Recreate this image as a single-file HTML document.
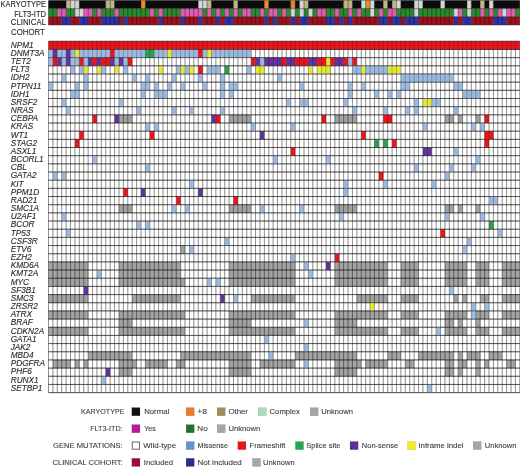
<!DOCTYPE html>
<html><head><meta charset="utf-8"><style>
html,body{margin:0;padding:0;background:#fff;}
body{width:520px;height:467px;overflow:hidden;font-family:"Liberation Sans",sans-serif;}
svg{display:block;will-change:transform;}
</style></head><body>
<svg width="520" height="467" viewBox="0 0 520 467"><rect x="48.50" y="0.45" width="17.62" height="8.17" fill="#0c0c0c"/><rect x="66.12" y="0.45" width="4.41" height="8.17" fill="#c0b785"/><rect x="70.53" y="0.45" width="8.81" height="8.17" fill="#d6d6d6"/><rect x="79.34" y="0.45" width="26.43" height="8.17" fill="#0c0c0c"/><rect x="105.77" y="0.45" width="8.81" height="8.17" fill="#c0b785"/><rect x="114.58" y="0.45" width="26.43" height="8.17" fill="#0c0c0c"/><rect x="141.00" y="0.45" width="4.41" height="8.17" fill="#ef8a25"/><rect x="145.41" y="0.45" width="52.86" height="8.17" fill="#0c0c0c"/><rect x="198.27" y="0.45" width="8.81" height="8.17" fill="#d6d6d6"/><rect x="207.08" y="0.45" width="4.41" height="8.17" fill="#c0b785"/><rect x="211.49" y="0.45" width="22.03" height="8.17" fill="#0c0c0c"/><rect x="233.51" y="0.45" width="4.41" height="8.17" fill="#c0b785"/><rect x="237.92" y="0.45" width="26.43" height="8.17" fill="#0c0c0c"/><rect x="264.35" y="0.45" width="4.41" height="8.17" fill="#ef8a25"/><rect x="268.75" y="0.45" width="22.03" height="8.17" fill="#0c0c0c"/><rect x="290.77" y="0.45" width="4.41" height="8.17" fill="#ef8a25"/><rect x="295.18" y="0.45" width="4.41" height="8.17" fill="#0c0c0c"/><rect x="299.59" y="0.45" width="4.41" height="8.17" fill="#d6d6d6"/><rect x="303.99" y="0.45" width="4.41" height="8.17" fill="#c0b785"/><rect x="308.40" y="0.45" width="35.24" height="8.17" fill="#0c0c0c"/><rect x="343.63" y="0.45" width="8.81" height="8.17" fill="#c0b785"/><rect x="352.44" y="0.45" width="8.81" height="8.17" fill="#0c0c0c"/><rect x="361.25" y="0.45" width="4.41" height="8.17" fill="#c4e2cc"/><rect x="365.66" y="0.45" width="4.41" height="8.17" fill="#ef8a25"/><rect x="370.06" y="0.45" width="4.41" height="8.17" fill="#d6d6d6"/><rect x="374.47" y="0.45" width="8.81" height="8.17" fill="#0c0c0c"/><rect x="383.28" y="0.45" width="4.41" height="8.17" fill="#c0b785"/><rect x="387.69" y="0.45" width="4.41" height="8.17" fill="#0c0c0c"/><rect x="392.09" y="0.45" width="4.41" height="8.17" fill="#c0b785"/><rect x="396.50" y="0.45" width="4.41" height="8.17" fill="#d6d6d6"/><rect x="400.90" y="0.45" width="13.21" height="8.17" fill="#0c0c0c"/><rect x="414.12" y="0.45" width="4.41" height="8.17" fill="#d6d6d6"/><rect x="418.52" y="0.45" width="4.41" height="8.17" fill="#c4e2cc"/><rect x="422.93" y="0.45" width="17.62" height="8.17" fill="#0c0c0c"/><rect x="440.55" y="0.45" width="4.41" height="8.17" fill="#d6d6d6"/><rect x="444.95" y="0.45" width="22.03" height="8.17" fill="#0c0c0c"/><rect x="466.98" y="0.45" width="4.41" height="8.17" fill="#d6d6d6"/><rect x="471.38" y="0.45" width="8.81" height="8.17" fill="#0c0c0c"/><rect x="480.19" y="0.45" width="4.41" height="8.17" fill="#c0b785"/><rect x="484.60" y="0.45" width="4.41" height="8.17" fill="#0c0c0c"/><rect x="489.00" y="0.45" width="4.41" height="8.17" fill="#d6d6d6"/><rect x="493.41" y="0.45" width="26.43" height="8.17" fill="#0c0c0c"/><rect x="48.50" y="8.62" width="8.81" height="8.17" fill="#2a8a2e"/><rect x="57.31" y="8.62" width="8.81" height="8.17" fill="#e25cb4"/><rect x="66.12" y="8.62" width="8.81" height="8.17" fill="#2a8a2e"/><rect x="74.93" y="8.62" width="8.81" height="8.17" fill="#d6d6d6"/><rect x="83.74" y="8.62" width="8.81" height="8.17" fill="#e25cb4"/><rect x="92.55" y="8.62" width="4.41" height="8.17" fill="#2a8a2e"/><rect x="96.96" y="8.62" width="4.41" height="8.17" fill="#e25cb4"/><rect x="101.36" y="8.62" width="13.21" height="8.17" fill="#2a8a2e"/><rect x="114.58" y="8.62" width="4.41" height="8.17" fill="#e25cb4"/><rect x="118.98" y="8.62" width="30.84" height="8.17" fill="#2a8a2e"/><rect x="149.81" y="8.62" width="4.41" height="8.17" fill="#e25cb4"/><rect x="154.22" y="8.62" width="4.41" height="8.17" fill="#2a8a2e"/><rect x="158.62" y="8.62" width="4.41" height="8.17" fill="#e25cb4"/><rect x="163.03" y="8.62" width="17.62" height="8.17" fill="#2a8a2e"/><rect x="180.65" y="8.62" width="22.03" height="8.17" fill="#e25cb4"/><rect x="202.68" y="8.62" width="4.41" height="8.17" fill="#2a8a2e"/><rect x="207.08" y="8.62" width="4.41" height="8.17" fill="#e25cb4"/><rect x="211.49" y="8.62" width="4.41" height="8.17" fill="#2a8a2e"/><rect x="215.89" y="8.62" width="4.41" height="8.17" fill="#e25cb4"/><rect x="220.30" y="8.62" width="4.41" height="8.17" fill="#2a8a2e"/><rect x="224.70" y="8.62" width="4.41" height="8.17" fill="#e25cb4"/><rect x="229.11" y="8.62" width="4.41" height="8.17" fill="#2a8a2e"/><rect x="233.51" y="8.62" width="4.41" height="8.17" fill="#e25cb4"/><rect x="237.92" y="8.62" width="4.41" height="8.17" fill="#2a8a2e"/><rect x="242.32" y="8.62" width="8.81" height="8.17" fill="#e25cb4"/><rect x="251.13" y="8.62" width="8.81" height="8.17" fill="#2a8a2e"/><rect x="259.94" y="8.62" width="4.41" height="8.17" fill="#e25cb4"/><rect x="264.35" y="8.62" width="4.41" height="8.17" fill="#2a8a2e"/><rect x="268.75" y="8.62" width="8.81" height="8.17" fill="#e25cb4"/><rect x="277.56" y="8.62" width="4.41" height="8.17" fill="#2a8a2e"/><rect x="281.97" y="8.62" width="4.41" height="8.17" fill="#e25cb4"/><rect x="286.37" y="8.62" width="4.41" height="8.17" fill="#2a8a2e"/><rect x="290.77" y="8.62" width="4.41" height="8.17" fill="#d6d6d6"/><rect x="295.18" y="8.62" width="4.41" height="8.17" fill="#2a8a2e"/><rect x="299.59" y="8.62" width="4.41" height="8.17" fill="#d6d6d6"/><rect x="303.99" y="8.62" width="4.41" height="8.17" fill="#2a8a2e"/><rect x="308.40" y="8.62" width="4.41" height="8.17" fill="#d6d6d6"/><rect x="312.80" y="8.62" width="4.41" height="8.17" fill="#2a8a2e"/><rect x="317.21" y="8.62" width="8.81" height="8.17" fill="#e25cb4"/><rect x="326.02" y="8.62" width="8.81" height="8.17" fill="#2a8a2e"/><rect x="334.82" y="8.62" width="4.41" height="8.17" fill="#e25cb4"/><rect x="339.23" y="8.62" width="8.81" height="8.17" fill="#2a8a2e"/><rect x="348.04" y="8.62" width="4.41" height="8.17" fill="#e25cb4"/><rect x="352.44" y="8.62" width="4.41" height="8.17" fill="#2a8a2e"/><rect x="356.85" y="8.62" width="4.41" height="8.17" fill="#e25cb4"/><rect x="361.25" y="8.62" width="8.81" height="8.17" fill="#2a8a2e"/><rect x="370.06" y="8.62" width="4.41" height="8.17" fill="#d6d6d6"/><rect x="374.47" y="8.62" width="4.41" height="8.17" fill="#2a8a2e"/><rect x="378.88" y="8.62" width="4.41" height="8.17" fill="#e25cb4"/><rect x="383.28" y="8.62" width="4.41" height="8.17" fill="#2a8a2e"/><rect x="387.69" y="8.62" width="8.81" height="8.17" fill="#e25cb4"/><rect x="396.50" y="8.62" width="17.62" height="8.17" fill="#2a8a2e"/><rect x="414.12" y="8.62" width="4.41" height="8.17" fill="#d6d6d6"/><rect x="418.52" y="8.62" width="35.24" height="8.17" fill="#2a8a2e"/><rect x="453.76" y="8.62" width="4.41" height="8.17" fill="#d6d6d6"/><rect x="458.17" y="8.62" width="4.41" height="8.17" fill="#e25cb4"/><rect x="462.57" y="8.62" width="4.41" height="8.17" fill="#2a8a2e"/><rect x="466.98" y="8.62" width="4.41" height="8.17" fill="#d6d6d6"/><rect x="471.38" y="8.62" width="8.81" height="8.17" fill="#2a8a2e"/><rect x="480.19" y="8.62" width="4.41" height="8.17" fill="#e25cb4"/><rect x="484.60" y="8.62" width="4.41" height="8.17" fill="#2a8a2e"/><rect x="489.00" y="8.62" width="4.41" height="8.17" fill="#e25cb4"/><rect x="493.41" y="8.62" width="4.41" height="8.17" fill="#2a8a2e"/><rect x="497.81" y="8.62" width="4.41" height="8.17" fill="#e25cb4"/><rect x="502.22" y="8.62" width="4.41" height="8.17" fill="#d6d6d6"/><rect x="506.62" y="8.62" width="8.81" height="8.17" fill="#e25cb4"/><rect x="515.43" y="8.62" width="4.41" height="8.17" fill="#2a8a2e"/><rect x="48.50" y="16.79" width="13.21" height="8.17" fill="#a0101c"/><rect x="61.72" y="16.79" width="8.81" height="8.17" fill="#2c33a6"/><rect x="70.53" y="16.79" width="8.81" height="8.17" fill="#a0101c"/><rect x="79.34" y="16.79" width="8.81" height="8.17" fill="#2c33a6"/><rect x="88.15" y="16.79" width="13.21" height="8.17" fill="#a0101c"/><rect x="101.36" y="16.79" width="17.62" height="8.17" fill="#2c33a6"/><rect x="118.98" y="16.79" width="4.41" height="8.17" fill="#a0101c"/><rect x="123.39" y="16.79" width="4.41" height="8.17" fill="#2c33a6"/><rect x="127.79" y="16.79" width="30.84" height="8.17" fill="#a0101c"/><rect x="158.62" y="16.79" width="4.41" height="8.17" fill="#2c33a6"/><rect x="163.03" y="16.79" width="17.62" height="8.17" fill="#a0101c"/><rect x="180.65" y="16.79" width="4.41" height="8.17" fill="#2c33a6"/><rect x="185.06" y="16.79" width="13.21" height="8.17" fill="#a0101c"/><rect x="198.27" y="16.79" width="4.41" height="8.17" fill="#2c33a6"/><rect x="202.68" y="16.79" width="13.21" height="8.17" fill="#a0101c"/><rect x="215.89" y="16.79" width="4.41" height="8.17" fill="#2c33a6"/><rect x="220.30" y="16.79" width="4.41" height="8.17" fill="#a0101c"/><rect x="224.70" y="16.79" width="8.81" height="8.17" fill="#2c33a6"/><rect x="233.51" y="16.79" width="30.84" height="8.17" fill="#a0101c"/><rect x="264.35" y="16.79" width="4.41" height="8.17" fill="#2c33a6"/><rect x="268.75" y="16.79" width="4.41" height="8.17" fill="#a0101c"/><rect x="273.15" y="16.79" width="4.41" height="8.17" fill="#2c33a6"/><rect x="277.56" y="16.79" width="13.21" height="8.17" fill="#a0101c"/><rect x="290.77" y="16.79" width="4.41" height="8.17" fill="#2c33a6"/><rect x="295.18" y="16.79" width="4.41" height="8.17" fill="#a0101c"/><rect x="299.59" y="16.79" width="8.81" height="8.17" fill="#2c33a6"/><rect x="308.40" y="16.79" width="17.62" height="8.17" fill="#a0101c"/><rect x="326.02" y="16.79" width="8.81" height="8.17" fill="#2c33a6"/><rect x="334.82" y="16.79" width="4.41" height="8.17" fill="#a0101c"/><rect x="339.23" y="16.79" width="4.41" height="8.17" fill="#2c33a6"/><rect x="343.63" y="16.79" width="4.41" height="8.17" fill="#a0101c"/><rect x="348.04" y="16.79" width="4.41" height="8.17" fill="#2c33a6"/><rect x="352.44" y="16.79" width="26.43" height="8.17" fill="#a0101c"/><rect x="378.88" y="16.79" width="8.81" height="8.17" fill="#2c33a6"/><rect x="387.69" y="16.79" width="4.41" height="8.17" fill="#a0101c"/><rect x="392.09" y="16.79" width="8.81" height="8.17" fill="#2c33a6"/><rect x="400.90" y="16.79" width="4.41" height="8.17" fill="#a0101c"/><rect x="405.31" y="16.79" width="13.21" height="8.17" fill="#2c33a6"/><rect x="418.52" y="16.79" width="35.24" height="8.17" fill="#a0101c"/><rect x="453.76" y="16.79" width="4.41" height="8.17" fill="#2c33a6"/><rect x="458.17" y="16.79" width="4.41" height="8.17" fill="#a0101c"/><rect x="462.57" y="16.79" width="8.81" height="8.17" fill="#2c33a6"/><rect x="471.38" y="16.79" width="22.03" height="8.17" fill="#a0101c"/><rect x="493.41" y="16.79" width="13.21" height="8.17" fill="#2c33a6"/><rect x="506.62" y="16.79" width="13.21" height="8.17" fill="#a0101c"/><path d="M48.50 0.45V24.96M52.91 0.45V24.96M57.31 0.45V24.96M61.72 0.45V24.96M66.12 0.45V24.96M70.53 0.45V24.96M74.93 0.45V24.96M79.34 0.45V24.96M83.74 0.45V24.96M88.15 0.45V24.96M92.55 0.45V24.96M96.96 0.45V24.96M101.36 0.45V24.96M105.77 0.45V24.96M110.17 0.45V24.96M114.58 0.45V24.96M118.98 0.45V24.96M123.39 0.45V24.96M127.79 0.45V24.96M132.19 0.45V24.96M136.60 0.45V24.96M141.00 0.45V24.96M145.41 0.45V24.96M149.81 0.45V24.96M154.22 0.45V24.96M158.62 0.45V24.96M163.03 0.45V24.96M167.44 0.45V24.96M171.84 0.45V24.96M176.25 0.45V24.96M180.65 0.45V24.96M185.06 0.45V24.96M189.46 0.45V24.96M193.87 0.45V24.96M198.27 0.45V24.96M202.68 0.45V24.96M207.08 0.45V24.96M211.49 0.45V24.96M215.89 0.45V24.96M220.30 0.45V24.96M224.70 0.45V24.96M229.11 0.45V24.96M233.51 0.45V24.96M237.92 0.45V24.96M242.32 0.45V24.96M246.73 0.45V24.96M251.13 0.45V24.96M255.54 0.45V24.96M259.94 0.45V24.96M264.35 0.45V24.96M268.75 0.45V24.96M273.15 0.45V24.96M277.56 0.45V24.96M281.97 0.45V24.96M286.37 0.45V24.96M290.77 0.45V24.96M295.18 0.45V24.96M299.59 0.45V24.96M303.99 0.45V24.96M308.40 0.45V24.96M312.80 0.45V24.96M317.21 0.45V24.96M321.61 0.45V24.96M326.02 0.45V24.96M330.42 0.45V24.96M334.82 0.45V24.96M339.23 0.45V24.96M343.63 0.45V24.96M348.04 0.45V24.96M352.44 0.45V24.96M356.85 0.45V24.96M361.25 0.45V24.96M365.66 0.45V24.96M370.06 0.45V24.96M374.47 0.45V24.96M378.88 0.45V24.96M383.28 0.45V24.96M387.69 0.45V24.96M392.09 0.45V24.96M396.50 0.45V24.96M400.90 0.45V24.96M405.31 0.45V24.96M409.71 0.45V24.96M414.12 0.45V24.96M418.52 0.45V24.96M422.93 0.45V24.96M427.33 0.45V24.96M431.74 0.45V24.96M436.14 0.45V24.96M440.55 0.45V24.96M444.95 0.45V24.96M449.36 0.45V24.96M453.76 0.45V24.96M458.17 0.45V24.96M462.57 0.45V24.96M466.98 0.45V24.96M471.38 0.45V24.96M475.79 0.45V24.96M480.19 0.45V24.96M484.60 0.45V24.96M489.00 0.45V24.96M493.41 0.45V24.96M497.81 0.45V24.96M502.22 0.45V24.96M506.62 0.45V24.96M511.03 0.45V24.96M515.43 0.45V24.96M519.84 0.45V24.96M48.50 0.45H519.84M48.50 8.62H519.84M48.50 16.79H519.84M48.50 24.96H519.84" stroke="#111" stroke-opacity="0.55" stroke-width="0.8" fill="none"/><rect x="118.98" y="114.83" width="13.21" height="8.17" fill="#a3a3a3"/><rect x="229.11" y="114.83" width="22.03" height="8.17" fill="#a3a3a3"/><rect x="334.82" y="114.83" width="22.03" height="8.17" fill="#a3a3a3"/><rect x="444.95" y="114.83" width="8.81" height="8.17" fill="#a3a3a3"/><rect x="458.17" y="114.83" width="4.41" height="8.17" fill="#a3a3a3"/><rect x="475.79" y="114.83" width="4.41" height="8.17" fill="#a3a3a3"/><rect x="118.98" y="204.70" width="13.21" height="8.17" fill="#a3a3a3"/><rect x="229.11" y="204.70" width="22.03" height="8.17" fill="#a3a3a3"/><rect x="334.82" y="204.70" width="22.03" height="8.17" fill="#a3a3a3"/><rect x="444.95" y="204.70" width="8.81" height="8.17" fill="#a3a3a3"/><rect x="458.17" y="204.70" width="4.41" height="8.17" fill="#a3a3a3"/><rect x="475.79" y="204.70" width="4.41" height="8.17" fill="#a3a3a3"/><rect x="180.65" y="245.55" width="4.41" height="8.17" fill="#a3a3a3"/><rect x="48.50" y="261.89" width="39.65" height="8.17" fill="#a3a3a3"/><rect x="118.98" y="261.89" width="61.67" height="8.17" fill="#a3a3a3"/><rect x="229.11" y="261.89" width="66.08" height="8.17" fill="#a3a3a3"/><rect x="334.82" y="261.89" width="52.86" height="8.17" fill="#a3a3a3"/><rect x="400.90" y="261.89" width="17.62" height="8.17" fill="#a3a3a3"/><rect x="444.95" y="261.89" width="22.03" height="8.17" fill="#a3a3a3"/><rect x="475.79" y="261.89" width="13.21" height="8.17" fill="#a3a3a3"/><rect x="502.22" y="261.89" width="17.62" height="8.17" fill="#a3a3a3"/><rect x="48.50" y="270.06" width="39.65" height="8.17" fill="#a3a3a3"/><rect x="118.98" y="270.06" width="61.67" height="8.17" fill="#a3a3a3"/><rect x="229.11" y="270.06" width="66.08" height="8.17" fill="#a3a3a3"/><rect x="334.82" y="270.06" width="52.86" height="8.17" fill="#a3a3a3"/><rect x="400.90" y="270.06" width="17.62" height="8.17" fill="#a3a3a3"/><rect x="444.95" y="270.06" width="22.03" height="8.17" fill="#a3a3a3"/><rect x="475.79" y="270.06" width="13.21" height="8.17" fill="#a3a3a3"/><rect x="502.22" y="270.06" width="17.62" height="8.17" fill="#a3a3a3"/><rect x="48.50" y="278.23" width="39.65" height="8.17" fill="#a3a3a3"/><rect x="118.98" y="278.23" width="66.08" height="8.17" fill="#a3a3a3"/><rect x="229.11" y="278.23" width="66.08" height="8.17" fill="#a3a3a3"/><rect x="334.82" y="278.23" width="52.86" height="8.17" fill="#a3a3a3"/><rect x="400.90" y="278.23" width="17.62" height="8.17" fill="#a3a3a3"/><rect x="444.95" y="278.23" width="22.03" height="8.17" fill="#a3a3a3"/><rect x="475.79" y="278.23" width="13.21" height="8.17" fill="#a3a3a3"/><rect x="502.22" y="278.23" width="17.62" height="8.17" fill="#a3a3a3"/><rect x="48.50" y="294.57" width="39.65" height="8.17" fill="#a3a3a3"/><rect x="132.19" y="294.57" width="48.46" height="8.17" fill="#a3a3a3"/><rect x="251.13" y="294.57" width="44.05" height="8.17" fill="#a3a3a3"/><rect x="356.85" y="294.57" width="30.84" height="8.17" fill="#a3a3a3"/><rect x="400.90" y="294.57" width="17.62" height="8.17" fill="#a3a3a3"/><rect x="453.76" y="294.57" width="4.41" height="8.17" fill="#a3a3a3"/><rect x="462.57" y="294.57" width="4.41" height="8.17" fill="#a3a3a3"/><rect x="480.19" y="294.57" width="8.81" height="8.17" fill="#a3a3a3"/><rect x="502.22" y="294.57" width="17.62" height="8.17" fill="#a3a3a3"/><rect x="48.50" y="310.91" width="39.65" height="8.17" fill="#a3a3a3"/><rect x="118.98" y="310.91" width="66.08" height="8.17" fill="#a3a3a3"/><rect x="229.11" y="310.91" width="66.08" height="8.17" fill="#a3a3a3"/><rect x="334.82" y="310.91" width="52.86" height="8.17" fill="#a3a3a3"/><rect x="400.90" y="310.91" width="17.62" height="8.17" fill="#a3a3a3"/><rect x="444.95" y="310.91" width="22.03" height="8.17" fill="#a3a3a3"/><rect x="475.79" y="310.91" width="13.21" height="8.17" fill="#a3a3a3"/><rect x="502.22" y="310.91" width="17.62" height="8.17" fill="#a3a3a3"/><rect x="118.98" y="319.08" width="13.21" height="8.17" fill="#a3a3a3"/><rect x="229.11" y="319.08" width="22.03" height="8.17" fill="#a3a3a3"/><rect x="334.82" y="319.08" width="22.03" height="8.17" fill="#a3a3a3"/><rect x="444.95" y="319.08" width="8.81" height="8.17" fill="#a3a3a3"/><rect x="458.17" y="319.08" width="4.41" height="8.17" fill="#a3a3a3"/><rect x="475.79" y="319.08" width="4.41" height="8.17" fill="#a3a3a3"/><rect x="48.50" y="327.25" width="39.65" height="8.17" fill="#a3a3a3"/><rect x="118.98" y="327.25" width="66.08" height="8.17" fill="#a3a3a3"/><rect x="229.11" y="327.25" width="66.08" height="8.17" fill="#a3a3a3"/><rect x="334.82" y="327.25" width="52.86" height="8.17" fill="#a3a3a3"/><rect x="400.90" y="327.25" width="17.62" height="8.17" fill="#a3a3a3"/><rect x="444.95" y="327.25" width="22.03" height="8.17" fill="#a3a3a3"/><rect x="475.79" y="327.25" width="13.21" height="8.17" fill="#a3a3a3"/><rect x="502.22" y="327.25" width="17.62" height="8.17" fill="#a3a3a3"/><rect x="88.15" y="351.76" width="44.05" height="8.17" fill="#a3a3a3"/><rect x="180.65" y="351.76" width="70.48" height="8.17" fill="#a3a3a3"/><rect x="295.18" y="351.76" width="61.67" height="8.17" fill="#a3a3a3"/><rect x="387.69" y="351.76" width="13.21" height="8.17" fill="#a3a3a3"/><rect x="418.52" y="351.76" width="35.24" height="8.17" fill="#a3a3a3"/><rect x="458.17" y="351.76" width="4.41" height="8.17" fill="#a3a3a3"/><rect x="466.98" y="351.76" width="13.21" height="8.17" fill="#a3a3a3"/><rect x="489.00" y="351.76" width="13.21" height="8.17" fill="#a3a3a3"/><rect x="52.91" y="359.93" width="17.62" height="8.17" fill="#a3a3a3"/><rect x="74.93" y="359.93" width="4.41" height="8.17" fill="#a3a3a3"/><rect x="83.74" y="359.93" width="4.41" height="8.17" fill="#a3a3a3"/><rect x="118.98" y="359.93" width="17.62" height="8.17" fill="#a3a3a3"/><rect x="145.41" y="359.93" width="22.03" height="8.17" fill="#a3a3a3"/><rect x="176.25" y="359.93" width="8.81" height="8.17" fill="#a3a3a3"/><rect x="229.11" y="359.93" width="22.03" height="8.17" fill="#a3a3a3"/><rect x="259.94" y="359.93" width="35.24" height="8.17" fill="#a3a3a3"/><rect x="334.82" y="359.93" width="26.43" height="8.17" fill="#a3a3a3"/><rect x="365.66" y="359.93" width="22.03" height="8.17" fill="#a3a3a3"/><rect x="405.31" y="359.93" width="8.81" height="8.17" fill="#a3a3a3"/><rect x="444.95" y="359.93" width="8.81" height="8.17" fill="#a3a3a3"/><rect x="458.17" y="359.93" width="8.81" height="8.17" fill="#a3a3a3"/><rect x="475.79" y="359.93" width="4.41" height="8.17" fill="#a3a3a3"/><rect x="484.60" y="359.93" width="4.41" height="8.17" fill="#a3a3a3"/><rect x="506.62" y="359.93" width="8.81" height="8.17" fill="#a3a3a3"/><rect x="118.98" y="368.10" width="13.21" height="8.17" fill="#a3a3a3"/><rect x="229.11" y="368.10" width="22.03" height="8.17" fill="#a3a3a3"/><rect x="334.82" y="368.10" width="22.03" height="8.17" fill="#a3a3a3"/><rect x="444.95" y="368.10" width="8.81" height="8.17" fill="#a3a3a3"/><rect x="458.17" y="368.10" width="4.41" height="8.17" fill="#a3a3a3"/><rect x="475.79" y="368.10" width="4.41" height="8.17" fill="#a3a3a3"/><path d="M48.50 41.30V392.61M52.91 41.30V392.61M57.31 41.30V392.61M61.72 41.30V392.61M66.12 41.30V392.61M70.53 41.30V392.61M74.93 41.30V392.61M79.34 41.30V392.61M83.74 41.30V392.61M88.15 41.30V392.61M92.55 41.30V392.61M96.96 41.30V392.61M101.36 41.30V392.61M105.77 41.30V392.61M110.17 41.30V392.61M114.58 41.30V392.61M118.98 41.30V392.61M123.39 41.30V392.61M127.79 41.30V392.61M132.19 41.30V392.61M136.60 41.30V392.61M141.00 41.30V392.61M145.41 41.30V392.61M149.81 41.30V392.61M154.22 41.30V392.61M158.62 41.30V392.61M163.03 41.30V392.61M167.44 41.30V392.61M171.84 41.30V392.61M176.25 41.30V392.61M180.65 41.30V392.61M185.06 41.30V392.61M189.46 41.30V392.61M193.87 41.30V392.61M198.27 41.30V392.61M202.68 41.30V392.61M207.08 41.30V392.61M211.49 41.30V392.61M215.89 41.30V392.61M220.30 41.30V392.61M224.70 41.30V392.61M229.11 41.30V392.61M233.51 41.30V392.61M237.92 41.30V392.61M242.32 41.30V392.61M246.73 41.30V392.61M251.13 41.30V392.61M255.54 41.30V392.61M259.94 41.30V392.61M264.35 41.30V392.61M268.75 41.30V392.61M273.15 41.30V392.61M277.56 41.30V392.61M281.97 41.30V392.61M286.37 41.30V392.61M290.77 41.30V392.61M295.18 41.30V392.61M299.59 41.30V392.61M303.99 41.30V392.61M308.40 41.30V392.61M312.80 41.30V392.61M317.21 41.30V392.61M321.61 41.30V392.61M326.02 41.30V392.61M330.42 41.30V392.61M334.82 41.30V392.61M339.23 41.30V392.61M343.63 41.30V392.61M348.04 41.30V392.61M352.44 41.30V392.61M356.85 41.30V392.61M361.25 41.30V392.61M365.66 41.30V392.61M370.06 41.30V392.61M374.47 41.30V392.61M378.88 41.30V392.61M383.28 41.30V392.61M387.69 41.30V392.61M392.09 41.30V392.61M396.50 41.30V392.61M400.90 41.30V392.61M405.31 41.30V392.61M409.71 41.30V392.61M414.12 41.30V392.61M418.52 41.30V392.61M422.93 41.30V392.61M427.33 41.30V392.61M431.74 41.30V392.61M436.14 41.30V392.61M440.55 41.30V392.61M444.95 41.30V392.61M449.36 41.30V392.61M453.76 41.30V392.61M458.17 41.30V392.61M462.57 41.30V392.61M466.98 41.30V392.61M471.38 41.30V392.61M475.79 41.30V392.61M480.19 41.30V392.61M484.60 41.30V392.61M489.00 41.30V392.61M493.41 41.30V392.61M497.81 41.30V392.61M502.22 41.30V392.61M506.62 41.30V392.61M511.03 41.30V392.61M515.43 41.30V392.61M519.84 41.30V392.61" stroke="#1c1c1c" stroke-opacity="0.36" stroke-width="0.8" fill="none"/><path d="M48.50 41.30H519.84M48.50 49.47H519.84M48.50 57.64H519.84M48.50 65.81H519.84M48.50 73.98H519.84M48.50 82.15H519.84M48.50 90.32H519.84M48.50 98.49H519.84M48.50 106.66H519.84M48.50 114.83H519.84M48.50 123.00H519.84M48.50 131.17H519.84M48.50 139.34H519.84M48.50 147.51H519.84M48.50 155.68H519.84M48.50 163.85H519.84M48.50 172.02H519.84M48.50 180.19H519.84M48.50 188.36H519.84M48.50 196.53H519.84M48.50 204.70H519.84M48.50 212.87H519.84M48.50 221.04H519.84M48.50 229.21H519.84M48.50 237.38H519.84M48.50 245.55H519.84M48.50 253.72H519.84M48.50 261.89H519.84M48.50 270.06H519.84M48.50 278.23H519.84M48.50 286.40H519.84M48.50 294.57H519.84M48.50 302.74H519.84M48.50 310.91H519.84M48.50 319.08H519.84M48.50 327.25H519.84M48.50 335.42H519.84M48.50 343.59H519.84M48.50 351.76H519.84M48.50 359.93H519.84M48.50 368.10H519.84M48.50 376.27H519.84M48.50 384.44H519.84M48.50 392.61H519.84" stroke="#1c1c1c" stroke-opacity="0.5" stroke-width="0.85" fill="none"/><rect x="48.50" y="41.30" width="471.34" height="8.17" fill="#e8161c"/><rect x="48.50" y="49.47" width="4.41" height="8.17" fill="#9cb9e0"/><rect x="52.91" y="49.47" width="4.41" height="8.17" fill="#62339c"/><rect x="57.31" y="49.47" width="8.81" height="8.17" fill="#9cb9e0"/><rect x="66.12" y="49.47" width="4.41" height="8.17" fill="#62339c"/><rect x="70.53" y="49.47" width="4.41" height="8.17" fill="#9cb9e0"/><rect x="74.93" y="49.47" width="4.41" height="8.17" fill="#e3e83a"/><rect x="79.34" y="49.47" width="30.84" height="8.17" fill="#9cb9e0"/><rect x="110.17" y="49.47" width="4.41" height="8.17" fill="#e8161c"/><rect x="114.58" y="49.47" width="30.84" height="8.17" fill="#9cb9e0"/><rect x="145.41" y="49.47" width="8.81" height="8.17" fill="#2ca04e"/><rect x="154.22" y="49.47" width="13.21" height="8.17" fill="#9cb9e0"/><rect x="167.44" y="49.47" width="4.41" height="8.17" fill="#e3e83a"/><rect x="171.84" y="49.47" width="26.43" height="8.17" fill="#9cb9e0"/><rect x="198.27" y="49.47" width="4.41" height="8.17" fill="#e8161c"/><rect x="202.68" y="49.47" width="4.41" height="8.17" fill="#9cb9e0"/><rect x="207.08" y="49.47" width="4.41" height="8.17" fill="#e3e83a"/><rect x="211.49" y="49.47" width="39.65" height="8.17" fill="#9cb9e0"/><rect x="48.50" y="57.64" width="4.41" height="8.17" fill="#9cb9e0"/><rect x="52.91" y="57.64" width="4.41" height="8.17" fill="#e8161c"/><rect x="57.31" y="57.64" width="4.41" height="8.17" fill="#62339c"/><rect x="61.72" y="57.64" width="4.41" height="8.17" fill="#9cb9e0"/><rect x="66.12" y="57.64" width="4.41" height="8.17" fill="#62339c"/><rect x="70.53" y="57.64" width="8.81" height="8.17" fill="#9cb9e0"/><rect x="79.34" y="57.64" width="4.41" height="8.17" fill="#e8161c"/><rect x="83.74" y="57.64" width="4.41" height="8.17" fill="#9cb9e0"/><rect x="88.15" y="57.64" width="4.41" height="8.17" fill="#62339c"/><rect x="92.55" y="57.64" width="4.41" height="8.17" fill="#e8161c"/><rect x="96.96" y="57.64" width="4.41" height="8.17" fill="#62339c"/><rect x="101.36" y="57.64" width="8.81" height="8.17" fill="#e8161c"/><rect x="110.17" y="57.64" width="4.41" height="8.17" fill="#62339c"/><rect x="114.58" y="57.64" width="4.41" height="8.17" fill="#9cb9e0"/><rect x="118.98" y="57.64" width="4.41" height="8.17" fill="#62339c"/><rect x="123.39" y="57.64" width="4.41" height="8.17" fill="#9cb9e0"/><rect x="127.79" y="57.64" width="4.41" height="8.17" fill="#e8161c"/><rect x="251.13" y="57.64" width="4.41" height="8.17" fill="#e8161c"/><rect x="255.54" y="57.64" width="4.41" height="8.17" fill="#62339c"/><rect x="259.94" y="57.64" width="4.41" height="8.17" fill="#9cb9e0"/><rect x="264.35" y="57.64" width="17.62" height="8.17" fill="#62339c"/><rect x="281.97" y="57.64" width="4.41" height="8.17" fill="#e8161c"/><rect x="286.37" y="57.64" width="8.81" height="8.17" fill="#62339c"/><rect x="295.18" y="57.64" width="13.21" height="8.17" fill="#e8161c"/><rect x="308.40" y="57.64" width="8.81" height="8.17" fill="#62339c"/><rect x="317.21" y="57.64" width="8.81" height="8.17" fill="#e8161c"/><rect x="326.02" y="57.64" width="4.41" height="8.17" fill="#e3e83a"/><rect x="330.42" y="57.64" width="4.41" height="8.17" fill="#e8161c"/><rect x="334.82" y="57.64" width="8.81" height="8.17" fill="#62339c"/><rect x="343.63" y="57.64" width="4.41" height="8.17" fill="#e8161c"/><rect x="348.04" y="57.64" width="4.41" height="8.17" fill="#9cb9e0"/><rect x="352.44" y="57.64" width="4.41" height="8.17" fill="#e8161c"/><rect x="70.53" y="65.81" width="4.41" height="8.17" fill="#9cb9e0"/><rect x="79.34" y="65.81" width="4.41" height="8.17" fill="#9cb9e0"/><rect x="83.74" y="65.81" width="4.41" height="8.17" fill="#e3e83a"/><rect x="96.96" y="65.81" width="4.41" height="8.17" fill="#e3e83a"/><rect x="101.36" y="65.81" width="4.41" height="8.17" fill="#9cb9e0"/><rect x="114.58" y="65.81" width="4.41" height="8.17" fill="#e3e83a"/><rect x="123.39" y="65.81" width="4.41" height="8.17" fill="#9cb9e0"/><rect x="158.62" y="65.81" width="4.41" height="8.17" fill="#e3e83a"/><rect x="176.25" y="65.81" width="4.41" height="8.17" fill="#9cb9e0"/><rect x="180.65" y="65.81" width="4.41" height="8.17" fill="#e3e83a"/><rect x="185.06" y="65.81" width="4.41" height="8.17" fill="#9cb9e0"/><rect x="189.46" y="65.81" width="4.41" height="8.17" fill="#e3e83a"/><rect x="198.27" y="65.81" width="4.41" height="8.17" fill="#e8161c"/><rect x="207.08" y="65.81" width="13.21" height="8.17" fill="#9cb9e0"/><rect x="224.70" y="65.81" width="4.41" height="8.17" fill="#2ca04e"/><rect x="246.73" y="65.81" width="4.41" height="8.17" fill="#9cb9e0"/><rect x="255.54" y="65.81" width="8.81" height="8.17" fill="#e3e83a"/><rect x="308.40" y="65.81" width="4.41" height="8.17" fill="#e3e83a"/><rect x="317.21" y="65.81" width="13.21" height="8.17" fill="#e3e83a"/><rect x="352.44" y="65.81" width="8.81" height="8.17" fill="#9cb9e0"/><rect x="361.25" y="65.81" width="4.41" height="8.17" fill="#e3e83a"/><rect x="365.66" y="65.81" width="22.03" height="8.17" fill="#9cb9e0"/><rect x="387.69" y="65.81" width="13.21" height="8.17" fill="#e3e83a"/><rect x="61.72" y="73.98" width="4.41" height="8.17" fill="#9cb9e0"/><rect x="83.74" y="73.98" width="4.41" height="8.17" fill="#9cb9e0"/><rect x="132.19" y="73.98" width="4.41" height="8.17" fill="#9cb9e0"/><rect x="145.41" y="73.98" width="4.41" height="8.17" fill="#9cb9e0"/><rect x="171.84" y="73.98" width="4.41" height="8.17" fill="#9cb9e0"/><rect x="198.27" y="73.98" width="4.41" height="8.17" fill="#9cb9e0"/><rect x="220.30" y="73.98" width="4.41" height="8.17" fill="#9cb9e0"/><rect x="277.56" y="73.98" width="4.41" height="8.17" fill="#9cb9e0"/><rect x="400.90" y="73.98" width="52.86" height="8.17" fill="#9cb9e0"/><rect x="48.50" y="82.15" width="4.41" height="8.17" fill="#9cb9e0"/><rect x="74.93" y="82.15" width="4.41" height="8.17" fill="#9cb9e0"/><rect x="83.74" y="82.15" width="4.41" height="8.17" fill="#9cb9e0"/><rect x="141.00" y="82.15" width="8.81" height="8.17" fill="#9cb9e0"/><rect x="154.22" y="82.15" width="4.41" height="8.17" fill="#9cb9e0"/><rect x="167.44" y="82.15" width="4.41" height="8.17" fill="#9cb9e0"/><rect x="180.65" y="82.15" width="4.41" height="8.17" fill="#9cb9e0"/><rect x="202.68" y="82.15" width="4.41" height="8.17" fill="#9cb9e0"/><rect x="220.30" y="82.15" width="4.41" height="8.17" fill="#9cb9e0"/><rect x="229.11" y="82.15" width="8.81" height="8.17" fill="#9cb9e0"/><rect x="299.59" y="82.15" width="4.41" height="8.17" fill="#9cb9e0"/><rect x="348.04" y="82.15" width="4.41" height="8.17" fill="#9cb9e0"/><rect x="361.25" y="82.15" width="4.41" height="8.17" fill="#9cb9e0"/><rect x="400.90" y="82.15" width="8.81" height="8.17" fill="#9cb9e0"/><rect x="453.76" y="82.15" width="8.81" height="8.17" fill="#9cb9e0"/><rect x="70.53" y="90.32" width="8.81" height="8.17" fill="#9cb9e0"/><rect x="141.00" y="90.32" width="4.41" height="8.17" fill="#9cb9e0"/><rect x="154.22" y="90.32" width="13.21" height="8.17" fill="#9cb9e0"/><rect x="220.30" y="90.32" width="4.41" height="8.17" fill="#9cb9e0"/><rect x="229.11" y="90.32" width="4.41" height="8.17" fill="#9cb9e0"/><rect x="348.04" y="90.32" width="4.41" height="8.17" fill="#9cb9e0"/><rect x="374.47" y="90.32" width="4.41" height="8.17" fill="#9cb9e0"/><rect x="387.69" y="90.32" width="4.41" height="8.17" fill="#9cb9e0"/><rect x="396.50" y="90.32" width="4.41" height="8.17" fill="#9cb9e0"/><rect x="462.57" y="90.32" width="17.62" height="8.17" fill="#9cb9e0"/><rect x="61.72" y="98.49" width="4.41" height="8.17" fill="#9cb9e0"/><rect x="118.98" y="98.49" width="4.41" height="8.17" fill="#9cb9e0"/><rect x="286.37" y="98.49" width="4.41" height="8.17" fill="#9cb9e0"/><rect x="299.59" y="98.49" width="8.81" height="8.17" fill="#9cb9e0"/><rect x="343.63" y="98.49" width="4.41" height="8.17" fill="#9cb9e0"/><rect x="414.12" y="98.49" width="4.41" height="8.17" fill="#9cb9e0"/><rect x="422.93" y="98.49" width="8.81" height="8.17" fill="#e3e83a"/><rect x="431.74" y="98.49" width="8.81" height="8.17" fill="#9cb9e0"/><rect x="66.12" y="106.66" width="4.41" height="8.17" fill="#9cb9e0"/><rect x="136.60" y="106.66" width="4.41" height="8.17" fill="#9cb9e0"/><rect x="171.84" y="106.66" width="4.41" height="8.17" fill="#9cb9e0"/><rect x="189.46" y="106.66" width="4.41" height="8.17" fill="#9cb9e0"/><rect x="220.30" y="106.66" width="4.41" height="8.17" fill="#9cb9e0"/><rect x="352.44" y="106.66" width="4.41" height="8.17" fill="#9cb9e0"/><rect x="383.28" y="106.66" width="4.41" height="8.17" fill="#9cb9e0"/><rect x="405.31" y="106.66" width="4.41" height="8.17" fill="#9cb9e0"/><rect x="414.12" y="106.66" width="4.41" height="8.17" fill="#9cb9e0"/><rect x="453.76" y="106.66" width="4.41" height="8.17" fill="#9cb9e0"/><rect x="92.55" y="114.83" width="4.41" height="8.17" fill="#e8161c"/><rect x="114.58" y="114.83" width="4.41" height="8.17" fill="#62339c"/><rect x="211.49" y="114.83" width="4.41" height="8.17" fill="#62339c"/><rect x="215.89" y="114.83" width="4.41" height="8.17" fill="#e8161c"/><rect x="321.61" y="114.83" width="4.41" height="8.17" fill="#e8161c"/><rect x="383.28" y="114.83" width="8.81" height="8.17" fill="#e8161c"/><rect x="484.60" y="114.83" width="4.41" height="8.17" fill="#e8161c"/><rect x="145.41" y="123.00" width="4.41" height="8.17" fill="#9cb9e0"/><rect x="154.22" y="123.00" width="4.41" height="8.17" fill="#9cb9e0"/><rect x="251.13" y="123.00" width="4.41" height="8.17" fill="#9cb9e0"/><rect x="290.77" y="123.00" width="4.41" height="8.17" fill="#9cb9e0"/><rect x="422.93" y="123.00" width="4.41" height="8.17" fill="#9cb9e0"/><rect x="471.38" y="123.00" width="4.41" height="8.17" fill="#9cb9e0"/><rect x="480.19" y="123.00" width="4.41" height="8.17" fill="#9cb9e0"/><rect x="79.34" y="131.17" width="4.41" height="8.17" fill="#e8161c"/><rect x="149.81" y="131.17" width="4.41" height="8.17" fill="#e8161c"/><rect x="259.94" y="131.17" width="4.41" height="8.17" fill="#62339c"/><rect x="361.25" y="131.17" width="4.41" height="8.17" fill="#e8161c"/><rect x="484.60" y="131.17" width="8.81" height="8.17" fill="#e8161c"/><rect x="74.93" y="139.34" width="4.41" height="8.17" fill="#e8161c"/><rect x="374.47" y="139.34" width="4.41" height="8.17" fill="#2ca04e"/><rect x="383.28" y="139.34" width="4.41" height="8.17" fill="#2ca04e"/><rect x="392.09" y="139.34" width="4.41" height="8.17" fill="#e8161c"/><rect x="484.60" y="139.34" width="4.41" height="8.17" fill="#e8161c"/><rect x="290.77" y="147.51" width="4.41" height="8.17" fill="#e8161c"/><rect x="422.93" y="147.51" width="8.81" height="8.17" fill="#62339c"/><rect x="453.76" y="147.51" width="4.41" height="8.17" fill="#9cb9e0"/><rect x="92.55" y="155.68" width="4.41" height="8.17" fill="#9cb9e0"/><rect x="273.15" y="155.68" width="4.41" height="8.17" fill="#9cb9e0"/><rect x="326.02" y="155.68" width="4.41" height="8.17" fill="#9cb9e0"/><rect x="475.79" y="155.68" width="4.41" height="8.17" fill="#9cb9e0"/><rect x="145.41" y="163.85" width="4.41" height="8.17" fill="#9cb9e0"/><rect x="414.12" y="163.85" width="4.41" height="8.17" fill="#9cb9e0"/><rect x="449.36" y="163.85" width="4.41" height="8.17" fill="#9cb9e0"/><rect x="471.38" y="163.85" width="4.41" height="8.17" fill="#9cb9e0"/><rect x="52.91" y="172.02" width="4.41" height="8.17" fill="#9cb9e0"/><rect x="61.72" y="172.02" width="4.41" height="8.17" fill="#9cb9e0"/><rect x="378.88" y="172.02" width="4.41" height="8.17" fill="#e8161c"/><rect x="444.95" y="172.02" width="4.41" height="8.17" fill="#9cb9e0"/><rect x="189.46" y="180.19" width="4.41" height="8.17" fill="#9cb9e0"/><rect x="343.63" y="180.19" width="4.41" height="8.17" fill="#9cb9e0"/><rect x="383.28" y="180.19" width="4.41" height="8.17" fill="#9cb9e0"/><rect x="431.74" y="180.19" width="4.41" height="8.17" fill="#9cb9e0"/><rect x="123.39" y="188.36" width="4.41" height="8.17" fill="#e8161c"/><rect x="141.00" y="188.36" width="4.41" height="8.17" fill="#62339c"/><rect x="198.27" y="188.36" width="4.41" height="8.17" fill="#62339c"/><rect x="343.63" y="188.36" width="4.41" height="8.17" fill="#9cb9e0"/><rect x="176.25" y="196.53" width="4.41" height="8.17" fill="#e8161c"/><rect x="233.51" y="196.53" width="4.41" height="8.17" fill="#e8161c"/><rect x="489.00" y="196.53" width="8.81" height="8.17" fill="#9cb9e0"/><rect x="171.84" y="204.70" width="4.41" height="8.17" fill="#9cb9e0"/><rect x="185.06" y="204.70" width="4.41" height="8.17" fill="#9cb9e0"/><rect x="259.94" y="204.70" width="4.41" height="8.17" fill="#9cb9e0"/><rect x="299.59" y="204.70" width="4.41" height="8.17" fill="#9cb9e0"/><rect x="61.72" y="212.87" width="4.41" height="8.17" fill="#9cb9e0"/><rect x="339.23" y="212.87" width="4.41" height="8.17" fill="#9cb9e0"/><rect x="444.95" y="212.87" width="4.41" height="8.17" fill="#9cb9e0"/><rect x="480.19" y="212.87" width="4.41" height="8.17" fill="#9cb9e0"/><rect x="136.60" y="221.04" width="4.41" height="8.17" fill="#9cb9e0"/><rect x="145.41" y="221.04" width="4.41" height="8.17" fill="#9cb9e0"/><rect x="489.00" y="221.04" width="4.41" height="8.17" fill="#2ca04e"/><rect x="66.12" y="229.21" width="4.41" height="8.17" fill="#9cb9e0"/><rect x="440.55" y="229.21" width="4.41" height="8.17" fill="#e8161c"/><rect x="497.81" y="229.21" width="4.41" height="8.17" fill="#9cb9e0"/><rect x="224.70" y="237.38" width="4.41" height="8.17" fill="#9cb9e0"/><rect x="466.98" y="237.38" width="4.41" height="8.17" fill="#9cb9e0"/><rect x="189.46" y="245.55" width="4.41" height="8.17" fill="#9cb9e0"/><rect x="462.57" y="245.55" width="4.41" height="8.17" fill="#9cb9e0"/><rect x="290.77" y="253.72" width="4.41" height="8.17" fill="#9cb9e0"/><rect x="334.82" y="253.72" width="4.41" height="8.17" fill="#e8161c"/><rect x="303.99" y="261.89" width="4.41" height="8.17" fill="#9cb9e0"/><rect x="326.02" y="261.89" width="4.41" height="8.17" fill="#62339c"/><rect x="96.96" y="270.06" width="4.41" height="8.17" fill="#9cb9e0"/><rect x="308.40" y="270.06" width="4.41" height="8.17" fill="#9cb9e0"/><rect x="207.08" y="278.23" width="4.41" height="8.17" fill="#9cb9e0"/><rect x="215.89" y="278.23" width="4.41" height="8.17" fill="#9cb9e0"/><rect x="83.74" y="286.40" width="4.41" height="8.17" fill="#62339c"/><rect x="449.36" y="286.40" width="4.41" height="8.17" fill="#9cb9e0"/><rect x="220.30" y="294.57" width="4.41" height="8.17" fill="#62339c"/><rect x="233.51" y="294.57" width="4.41" height="8.17" fill="#9cb9e0"/><rect x="370.06" y="302.74" width="4.41" height="8.17" fill="#e3e83a"/><rect x="471.38" y="302.74" width="4.41" height="8.17" fill="#9cb9e0"/><rect x="484.60" y="302.74" width="4.41" height="8.17" fill="#9cb9e0"/><rect x="471.38" y="310.91" width="4.41" height="8.17" fill="#9cb9e0"/><rect x="303.99" y="319.08" width="4.41" height="8.17" fill="#9cb9e0"/><rect x="436.14" y="327.25" width="4.41" height="8.17" fill="#9cb9e0"/><rect x="264.35" y="335.42" width="4.41" height="8.17" fill="#9cb9e0"/><rect x="303.99" y="343.59" width="4.41" height="8.17" fill="#9cb9e0"/><rect x="268.75" y="351.76" width="4.41" height="8.17" fill="#9cb9e0"/><rect x="303.99" y="359.93" width="4.41" height="8.17" fill="#9cb9e0"/><rect x="105.77" y="368.10" width="4.41" height="8.17" fill="#62339c"/><rect x="101.36" y="376.27" width="4.41" height="8.17" fill="#9cb9e0"/><rect x="427.33" y="384.44" width="4.41" height="8.17" fill="#9cb9e0"/><path d="M48.50 41.30V392.61M52.91 41.30V392.61M57.31 41.30V392.61M61.72 41.30V392.61M66.12 41.30V392.61M70.53 41.30V392.61M74.93 41.30V392.61M79.34 41.30V392.61M83.74 41.30V392.61M88.15 41.30V392.61M92.55 41.30V392.61M96.96 41.30V392.61M101.36 41.30V392.61M105.77 41.30V392.61M110.17 41.30V392.61M114.58 41.30V392.61M118.98 41.30V392.61M123.39 41.30V392.61M127.79 41.30V392.61M132.19 41.30V392.61M136.60 41.30V392.61M141.00 41.30V392.61M145.41 41.30V392.61M149.81 41.30V392.61M154.22 41.30V392.61M158.62 41.30V392.61M163.03 41.30V392.61M167.44 41.30V392.61M171.84 41.30V392.61M176.25 41.30V392.61M180.65 41.30V392.61M185.06 41.30V392.61M189.46 41.30V392.61M193.87 41.30V392.61M198.27 41.30V392.61M202.68 41.30V392.61M207.08 41.30V392.61M211.49 41.30V392.61M215.89 41.30V392.61M220.30 41.30V392.61M224.70 41.30V392.61M229.11 41.30V392.61M233.51 41.30V392.61M237.92 41.30V392.61M242.32 41.30V392.61M246.73 41.30V392.61M251.13 41.30V392.61M255.54 41.30V392.61M259.94 41.30V392.61M264.35 41.30V392.61M268.75 41.30V392.61M273.15 41.30V392.61M277.56 41.30V392.61M281.97 41.30V392.61M286.37 41.30V392.61M290.77 41.30V392.61M295.18 41.30V392.61M299.59 41.30V392.61M303.99 41.30V392.61M308.40 41.30V392.61M312.80 41.30V392.61M317.21 41.30V392.61M321.61 41.30V392.61M326.02 41.30V392.61M330.42 41.30V392.61M334.82 41.30V392.61M339.23 41.30V392.61M343.63 41.30V392.61M348.04 41.30V392.61M352.44 41.30V392.61M356.85 41.30V392.61M361.25 41.30V392.61M365.66 41.30V392.61M370.06 41.30V392.61M374.47 41.30V392.61M378.88 41.30V392.61M383.28 41.30V392.61M387.69 41.30V392.61M392.09 41.30V392.61M396.50 41.30V392.61M400.90 41.30V392.61M405.31 41.30V392.61M409.71 41.30V392.61M414.12 41.30V392.61M418.52 41.30V392.61M422.93 41.30V392.61M427.33 41.30V392.61M431.74 41.30V392.61M436.14 41.30V392.61M440.55 41.30V392.61M444.95 41.30V392.61M449.36 41.30V392.61M453.76 41.30V392.61M458.17 41.30V392.61M462.57 41.30V392.61M466.98 41.30V392.61M471.38 41.30V392.61M475.79 41.30V392.61M480.19 41.30V392.61M484.60 41.30V392.61M489.00 41.30V392.61M493.41 41.30V392.61M497.81 41.30V392.61M502.22 41.30V392.61M506.62 41.30V392.61M511.03 41.30V392.61M515.43 41.30V392.61M519.84 41.30V392.61" stroke="#111" stroke-opacity="0.3" stroke-width="0.85" fill="none"/><path d="M48.50 41.30H519.84M48.50 49.47H519.84M48.50 57.64H519.84M48.50 65.81H519.84M48.50 73.98H519.84M48.50 82.15H519.84M48.50 90.32H519.84M48.50 98.49H519.84M48.50 106.66H519.84M48.50 114.83H519.84M48.50 123.00H519.84M48.50 131.17H519.84M48.50 139.34H519.84M48.50 147.51H519.84M48.50 155.68H519.84M48.50 163.85H519.84M48.50 172.02H519.84M48.50 180.19H519.84M48.50 188.36H519.84M48.50 196.53H519.84M48.50 204.70H519.84M48.50 212.87H519.84M48.50 221.04H519.84M48.50 229.21H519.84M48.50 237.38H519.84M48.50 245.55H519.84M48.50 253.72H519.84M48.50 261.89H519.84M48.50 270.06H519.84M48.50 278.23H519.84M48.50 286.40H519.84M48.50 294.57H519.84M48.50 302.74H519.84M48.50 310.91H519.84M48.50 319.08H519.84M48.50 327.25H519.84M48.50 335.42H519.84M48.50 343.59H519.84M48.50 351.76H519.84M48.50 359.93H519.84M48.50 368.10H519.84M48.50 376.27H519.84M48.50 384.44H519.84M48.50 392.61H519.84" stroke="#111" stroke-opacity="0.55" stroke-width="0.9" fill="none"/><g font-family="Liberation Sans, sans-serif" stroke="#2a2a2a" stroke-width="0.12"><text x="46" y="7.2" text-anchor="end" textLength="45.5" lengthAdjust="spacingAndGlyphs" font-size="8.3" fill="#2a2a2a">KARYOTYPE</text><text x="46" y="16.5" text-anchor="end" textLength="31.8" lengthAdjust="spacingAndGlyphs" font-size="8.3" fill="#2a2a2a">FLT3-ITD</text><text x="46" y="25.2" text-anchor="end" textLength="35.2" lengthAdjust="spacingAndGlyphs" font-size="8.3" fill="#2a2a2a">CLINICAL</text><text x="44.7" y="34.8" text-anchor="end" textLength="33.6" lengthAdjust="spacingAndGlyphs" font-size="8.3" fill="#2a2a2a">COHORT</text><text x="10.7" y="47.685" text-anchor="start" font-style="italic" font-size="8.25" fill="#2a2a2a">NPM1</text><text x="10.7" y="55.855" text-anchor="start" font-style="italic" font-size="8.25" fill="#2a2a2a">DNMT3A</text><text x="10.7" y="64.025" text-anchor="start" font-style="italic" font-size="8.25" fill="#2a2a2a">TET2</text><text x="10.7" y="72.195" text-anchor="start" font-style="italic" font-size="8.25" fill="#2a2a2a">FLT3</text><text x="10.7" y="80.365" text-anchor="start" font-style="italic" font-size="8.25" fill="#2a2a2a">IDH2</text><text x="10.7" y="88.535" text-anchor="start" font-style="italic" font-size="8.25" fill="#2a2a2a">PTPN11</text><text x="10.7" y="96.705" text-anchor="start" font-style="italic" font-size="8.25" fill="#2a2a2a">IDH1</text><text x="10.7" y="104.87499999999999" text-anchor="start" font-style="italic" font-size="8.25" fill="#2a2a2a">SRSF2</text><text x="10.7" y="113.04499999999999" text-anchor="start" font-style="italic" font-size="8.25" fill="#2a2a2a">NRAS</text><text x="10.7" y="121.21499999999999" text-anchor="start" font-style="italic" font-size="8.25" fill="#2a2a2a">CEBPA</text><text x="10.7" y="129.385" text-anchor="start" font-style="italic" font-size="8.25" fill="#2a2a2a">KRAS</text><text x="10.7" y="137.555" text-anchor="start" font-style="italic" font-size="8.25" fill="#2a2a2a">WT1</text><text x="10.7" y="145.725" text-anchor="start" font-style="italic" font-size="8.25" fill="#2a2a2a">STAG2</text><text x="10.7" y="153.895" text-anchor="start" font-style="italic" font-size="8.25" fill="#2a2a2a">ASXL1</text><text x="10.7" y="162.065" text-anchor="start" font-style="italic" font-size="8.25" fill="#2a2a2a">BCORL1</text><text x="10.7" y="170.235" text-anchor="start" font-style="italic" font-size="8.25" fill="#2a2a2a">CBL</text><text x="10.7" y="178.405" text-anchor="start" font-style="italic" font-size="8.25" fill="#2a2a2a">GATA2</text><text x="10.7" y="186.57500000000002" text-anchor="start" font-style="italic" font-size="8.25" fill="#2a2a2a">KIT</text><text x="10.7" y="194.745" text-anchor="start" font-style="italic" font-size="8.25" fill="#2a2a2a">PPM1D</text><text x="10.7" y="202.915" text-anchor="start" font-style="italic" font-size="8.25" fill="#2a2a2a">RAD21</text><text x="10.7" y="211.085" text-anchor="start" font-style="italic" font-size="8.25" fill="#2a2a2a">SMC1A</text><text x="10.7" y="219.255" text-anchor="start" font-style="italic" font-size="8.25" fill="#2a2a2a">U2AF1</text><text x="10.7" y="227.425" text-anchor="start" font-style="italic" font-size="8.25" fill="#2a2a2a">BCOR</text><text x="10.7" y="235.595" text-anchor="start" font-style="italic" font-size="8.25" fill="#2a2a2a">TP53</text><text x="10.7" y="243.76500000000001" text-anchor="start" font-style="italic" font-size="8.25" fill="#2a2a2a">CSF3R</text><text x="10.7" y="251.935" text-anchor="start" font-style="italic" font-size="8.25" fill="#2a2a2a">ETV6</text><text x="10.7" y="260.105" text-anchor="start" font-style="italic" font-size="8.25" fill="#2a2a2a">EZH2</text><text x="10.7" y="268.275" text-anchor="start" font-style="italic" font-size="8.25" fill="#2a2a2a">KMD6A</text><text x="10.7" y="276.445" text-anchor="start" font-style="italic" font-size="8.25" fill="#2a2a2a">KMT2A</text><text x="10.7" y="284.61499999999995" text-anchor="start" font-style="italic" font-size="8.25" fill="#2a2a2a">MYC</text><text x="10.7" y="292.78499999999997" text-anchor="start" font-style="italic" font-size="8.25" fill="#2a2a2a">SF3B1</text><text x="10.7" y="300.955" text-anchor="start" font-style="italic" font-size="8.25" fill="#2a2a2a">SMC3</text><text x="10.7" y="309.125" text-anchor="start" font-style="italic" font-size="8.25" fill="#2a2a2a">ZRSR2</text><text x="10.7" y="317.29499999999996" text-anchor="start" font-style="italic" font-size="8.25" fill="#2a2a2a">ATRX</text><text x="10.7" y="325.465" text-anchor="start" font-style="italic" font-size="8.25" fill="#2a2a2a">BRAF</text><text x="10.7" y="333.635" text-anchor="start" font-style="italic" font-size="8.25" fill="#2a2a2a">CDKN2A</text><text x="10.7" y="341.80499999999995" text-anchor="start" font-style="italic" font-size="8.25" fill="#2a2a2a">GATA1</text><text x="10.7" y="349.97499999999997" text-anchor="start" font-style="italic" font-size="8.25" fill="#2a2a2a">JAK2</text><text x="10.7" y="358.145" text-anchor="start" font-style="italic" font-size="8.25" fill="#2a2a2a">MBD4</text><text x="10.7" y="366.315" text-anchor="start" font-style="italic" font-size="8.25" fill="#2a2a2a">PDGFRA</text><text x="10.7" y="374.48499999999996" text-anchor="start" font-style="italic" font-size="8.25" fill="#2a2a2a">PHF6</text><text x="10.7" y="382.655" text-anchor="start" font-style="italic" font-size="8.25" fill="#2a2a2a">RUNX1</text><text x="10.7" y="390.825" text-anchor="start" font-style="italic" font-size="8.25" fill="#2a2a2a">SETBP1</text></g><g font-family="Liberation Sans, sans-serif" stroke="#3a3a3a" stroke-width="0.1"><text x="124.4" y="414.2" text-anchor="end" font-size="8.05" textLength="43.4" lengthAdjust="spacingAndGlyphs" fill="#3a3a3a">KARYOTYPE</text><text x="122.7" y="431.1" text-anchor="end" font-size="8.05" textLength="32.5" lengthAdjust="spacingAndGlyphs" fill="#3a3a3a">FLT3-ITD:</text><text x="122.7" y="448.3" text-anchor="end" font-size="8.05" textLength="69.7" lengthAdjust="spacingAndGlyphs" fill="#3a3a3a">GENE MUTATIONS:</text><text x="122.7" y="464.9" text-anchor="end" font-size="8.05" textLength="70.2" lengthAdjust="spacingAndGlyphs" fill="#3a3a3a">CLINICAL COHORT:</text><rect x="131.8" y="407.6" width="8.2" height="8.2" fill="#111"/><text x="144.2" y="414.2" text-anchor="start" font-size="8.05" textLength="25.0" lengthAdjust="spacingAndGlyphs" fill="#3a3a3a">Normal</text><rect x="186.1" y="407.6" width="8.2" height="8.2" fill="#ea7a26"/><text x="197.3" y="414.2" text-anchor="start" font-size="8.05" textLength="9.9" lengthAdjust="spacingAndGlyphs" fill="#3a3a3a">+8</text><rect x="217.1" y="407.6" width="8.2" height="8.2" fill="#9a9058"/><text x="228.4" y="414.2" text-anchor="start" font-size="8.05" textLength="19.6" lengthAdjust="spacingAndGlyphs" fill="#3a3a3a">Other</text><rect x="258.1" y="407.6" width="8.2" height="8.2" fill="#afdabb"/><text x="269.5" y="414.2" text-anchor="start" font-size="8.05" textLength="30.5" lengthAdjust="spacingAndGlyphs" fill="#3a3a3a">Complex</text><rect x="310.1" y="407.6" width="8.2" height="8.2" fill="#a6a6a6"/><text x="321.3" y="414.2" text-anchor="start" font-size="8.05" textLength="31.8" lengthAdjust="spacingAndGlyphs" fill="#3a3a3a">Unknown</text><rect x="131.8" y="424.6" width="8.2" height="8.2" fill="#b5189c"/><text x="144.2" y="431.1" text-anchor="start" font-size="8.05" textLength="11.8" lengthAdjust="spacingAndGlyphs" fill="#3a3a3a">Yes</text><rect x="186.1" y="424.6" width="8.2" height="8.2" fill="#2b6b2b"/><text x="197.3" y="431.1" text-anchor="start" font-size="8.05" textLength="10.4" lengthAdjust="spacingAndGlyphs" fill="#3a3a3a">No</text><rect x="217.1" y="424.6" width="8.2" height="8.2" fill="#a6a6a6"/><text x="228.4" y="431.1" text-anchor="start" font-size="8.05" textLength="31.8" lengthAdjust="spacingAndGlyphs" fill="#3a3a3a">Unknown</text><rect x="132.3" y="442.0" width="7.2" height="7.2" fill="#fff" stroke="#6a6a6a" stroke-width="1"/><text x="143.2" y="448.3" text-anchor="start" font-size="8.05" textLength="33.0" lengthAdjust="spacingAndGlyphs" fill="#3a3a3a">Wild-type</text><rect x="186.1" y="441.5" width="8.2" height="8.2" fill="#6494d6"/><text x="197.5" y="448.3" text-anchor="start" font-size="8.05" textLength="30.5" lengthAdjust="spacingAndGlyphs" fill="#3a3a3a">Missense</text><rect x="237.8" y="441.5" width="8.2" height="8.2" fill="#e8141c"/><text x="249.6" y="448.3" text-anchor="start" font-size="8.05" textLength="35.8" lengthAdjust="spacingAndGlyphs" fill="#3a3a3a">Frameshift</text><rect x="295.4" y="441.5" width="8.2" height="8.2" fill="#27a552"/><text x="306.3" y="448.3" text-anchor="start" font-size="8.05" textLength="34.1" lengthAdjust="spacingAndGlyphs" fill="#3a3a3a">Splice site</text><rect x="350.0" y="441.5" width="8.2" height="8.2" fill="#553391"/><text x="361.8" y="448.3" text-anchor="start" font-size="8.05" textLength="36.4" lengthAdjust="spacingAndGlyphs" fill="#3a3a3a">Non-sense</text><rect x="407.4" y="441.5" width="8.2" height="8.2" fill="#f2ea22"/><text x="418.4" y="448.3" text-anchor="start" font-size="8.05" textLength="45.1" lengthAdjust="spacingAndGlyphs" fill="#3a3a3a">Inframe indel</text><rect x="473.1" y="441.5" width="8.2" height="8.2" fill="#a6a6a6"/><text x="484.7" y="448.3" text-anchor="start" font-size="8.05" textLength="31.8" lengthAdjust="spacingAndGlyphs" fill="#3a3a3a">Unknown</text><rect x="131.8" y="458.3" width="8.2" height="8.2" fill="#9c0c3c"/><text x="143.8" y="464.9" text-anchor="start" font-size="8.05" textLength="29.3" lengthAdjust="spacingAndGlyphs" fill="#3a3a3a">Included</text><rect x="186.1" y="458.3" width="8.2" height="8.2" fill="#2e2a88"/><text x="197.5" y="464.9" text-anchor="start" font-size="8.05" textLength="44.3" lengthAdjust="spacingAndGlyphs" fill="#3a3a3a">Not included</text><rect x="252.4" y="458.3" width="8.2" height="8.2" fill="#a6a6a6"/><text x="263.0" y="464.9" text-anchor="start" font-size="8.05" textLength="31.8" lengthAdjust="spacingAndGlyphs" fill="#3a3a3a">Unknown</text></g></svg>
</body></html>
